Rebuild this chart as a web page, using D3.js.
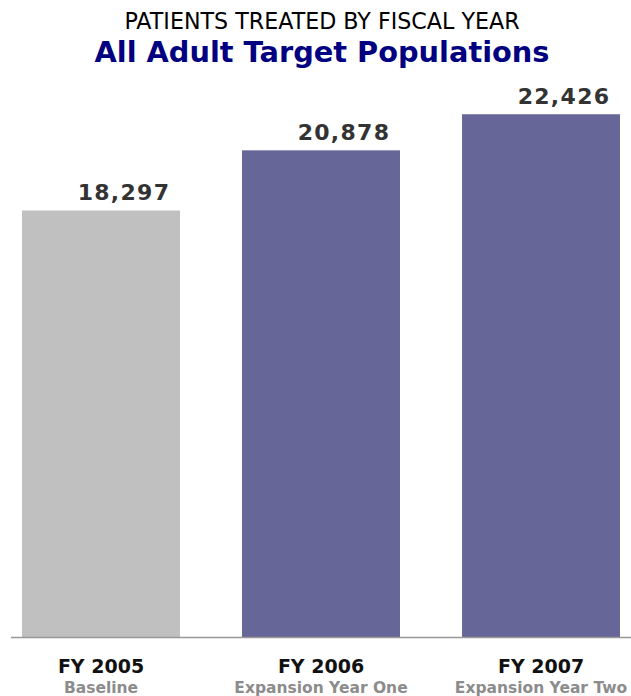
<!DOCTYPE html>
<html>
<head>
<meta charset="utf-8">
<script src="https://cdn.jsdelivr.net/npm/d3@7.9.0/dist/d3.min.js"></script>
<style>
  body { margin: 0; background: #fff; }
  svg { display: block; }
</style>
</head>
<body>
<div id="chart"></div>
<script>
const years = ['FY 2005', 'FY 2006', 'FY 2007'];
const subLabels = ['Baseline', 'Expansion Year One', 'Expansion Year Two'];
const patients = [18297, 20878, 22426];
const barColors = ['#c0c0c0', '#666699', '#666699'];

const width = 631;
const height = 696;
const baseline = 637;

const svg = d3.select('#chart').append('svg')
  .attr('width', width)
  .attr('height', height);

// titles
svg.append('text')
  .attr('x', 322)
  .attr('y', 29)
  .attr('text-anchor', 'middle')
  .attr('font-family', 'DejaVu Sans, Verdana, sans-serif')
  .attr('font-size', 22.2)
  .attr('fill', '#000')
  .text('PATIENTS TREATED BY FISCAL YEAR');

svg.append('text')
  .attr('x', 322)
  .attr('y', 62)
  .attr('text-anchor', 'middle')
  .attr('font-family', 'DejaVu Sans, Verdana, sans-serif')
  .attr('font-weight', 'bold')
  .attr('font-size', 28.8)
  .attr('fill', '#000080')
  .text('All Adult Target Populations');

const xScale = d3.scaleBand()
  .domain(years)
  .range([22, 620])
  .paddingInner(0.282)
  .paddingOuter(0);

const yScale = d3.scaleLinear()
  .domain([0, 25000])
  .range([baseline, baseline - 25000 * 0.02331]);

const rows = years.map((y, i) => ({ year: y, sub: subLabels[i], value: patients[i], color: barColors[i] }));

svg.append('g')
  .selectAll('rect')
  .data(rows)
  .join('rect')
  .attr('x', d => xScale(d.year))
  .attr('y', d => yScale(d.value))
  .attr('width', xScale.bandwidth())
  .attr('height', d => yScale(0) - yScale(d.value))
  .attr('fill', d => d.color);

// axis baseline
svg.append('line')
  .attr('x1', 11)
  .attr('x2', width)
  .attr('y1', baseline + 0.5)
  .attr('y2', baseline + 0.5)
  .attr('stroke', '#999')
  .attr('stroke-width', 1.5);

// value labels
svg.append('g')
  .selectAll('text')
  .data(rows)
  .join('text')
  .attr('x', d => xScale(d.year) + xScale.bandwidth() / 2 + 23)
  .attr('y', d => yScale(d.value) - 10)
  .attr('text-anchor', 'middle')
  .attr('font-family', 'DejaVu Sans, Verdana, sans-serif')
  .attr('font-weight', 'bold')
  .attr('font-size', 22)
  .attr('letter-spacing', 1.3)
  .attr('fill', '#333')
  .text(d => d3.format(',')(d.value));

// category labels
const cats = svg.append('g')
  .selectAll('g')
  .data(rows)
  .join('g')
  .attr('transform', d => `translate(${xScale(d.year) + xScale.bandwidth() / 2},0)`);

cats.append('text')
  .attr('y', 673)
  .attr('text-anchor', 'middle')
  .attr('font-family', 'DejaVu Sans, Verdana, sans-serif')
  .attr('font-weight', 'bold')
  .attr('font-size', 19)
  .attr('fill', '#111')
  .text(d => d.year);

cats.append('text')
  .attr('y', 693)
  .attr('text-anchor', 'middle')
  .attr('font-family', 'DejaVu Sans, Verdana, sans-serif')
  .attr('font-weight', 'bold')
  .attr('font-size', 15.5)
  .attr('fill', '#8c8c8c')
  .text(d => d.sub);
</script>
</body>
</html>
